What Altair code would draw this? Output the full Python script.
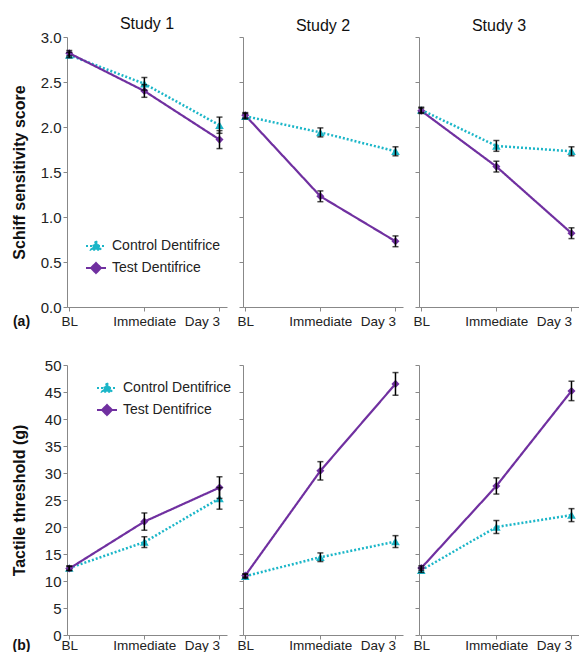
import altair as alt
import pandas as pd

# ---------------- data ----------------
studies = ["Study 1", "Study 2", "Study 3"]
time_labels = ["BL", "Immediate", "Day 3"]
series_names = ["Control Dentifrice", "Test Dentifrice"]

# (a) Schiff sensitivity score, mean and SE per study [BL, Immediate, Day 3]
schiff_control = [[2.80, 2.48, 2.02], [2.12, 1.94, 1.73], [2.19, 1.79, 1.73]]
schiff_control_se = [[0.03, 0.07, 0.09], [0.03, 0.05, 0.05], [0.03, 0.06, 0.05]]
schiff_test = [[2.82, 2.40, 1.86], [2.13, 1.23, 0.73], [2.18, 1.56, 0.82]]
schiff_test_se = [[0.03, 0.07, 0.10], [0.03, 0.06, 0.06], [0.03, 0.06, 0.06]]

# (b) Tactile threshold (g)
tactile_control = [[12.4, 17.2, 25.3], [10.9, 14.4, 17.3], [12.0, 20.0, 22.2]]
tactile_control_se = [[0.4, 1.0, 2.0], [0.4, 0.8, 1.1], [0.4, 1.2, 1.2]]
tactile_test = [[12.3, 21.0, 27.3], [11.0, 30.4, 46.5], [12.4, 27.6, 45.2]]
tactile_test_se = [[0.4, 1.6, 2.0], [0.3, 1.7, 2.1], [0.4, 1.5, 1.8]]

schiff_ticks = [0, 0.5, 1.0, 1.5, 2.0, 2.5, 3.0]
tactile_ticks = [0, 5, 10, 15, 20, 25, 30, 35, 40, 45, 50]

CONTROL = "#1BB6C8"
TEST = "#7030A0"
FONT = "Arial"


def make_df(ctrl, ctrl_se, test, test_se):
    rows = []
    for si, study in enumerate(studies):
        for ti in range(3):
            for name, m, s in ((series_names[0], ctrl, ctrl_se), (series_names[1], test, test_se)):
                v = m[si][ti]
                e = s[si][ti]
                rows.append({"study": study, "series": name, "t": ti,
                             "mean": v, "lo": v - e, "hi": v + e})
    return pd.DataFrame(rows)


df_a = make_df(schiff_control, schiff_control_se, schiff_test, schiff_test_se)
df_b = make_df(tactile_control, tactile_control_se, tactile_test, tactile_test_se)

label_expr = ("datum.value == 0 ? '%s' : datum.value == 1 ? '%s' : '%s'"
              % tuple(time_labels))
label_align = {"condition": {"test": "datum.value == 2", "value": "right"}, "value": "center"}

legend_paths = [
    "M-1,0L1,0M0,-0.5L0.5,0.38L-0.5,0.38Z",
    "M-1,0L1,0M0,-0.5L0.5,0L0,0.5L-0.5,0Z",
]


def panel(df, si, ydomain, yticks, yfmt, ytitle, letter, legend_xy, show_title, xpad):
    first = si == 0
    study = studies[si]
    base = alt.Chart(df).transform_filter(alt.datum.study == study)

    if first:
        xaxis = alt.Axis(values=[0, 1, 2], labelExpr=label_expr, labelAlign=label_align,
                         labelPadding=xpad, title=letter,
                         titleX=-46, titleY=11 + xpad, titleAlign="center",
                         titleBaseline="middle",
                         titleFontSize=14, titleFontWeight="bold", titleFont=FONT,
                         titleColor="#111")
    else:
        xaxis = alt.Axis(values=[0, 1, 2], labelExpr=label_expr, labelAlign=label_align,
                         labelPadding=xpad, title=None)
    x = alt.X("t:Q", scale=alt.Scale(domain=[-0.03, 2.1], nice=False, zero=False), axis=xaxis)

    if first:
        yaxis = alt.Axis(values=yticks, format=yfmt, title=ytitle, labelFontSize=15,
                         titleX=-40, titleY=135, titleAngle=-90, titleAlign="center",
                         titleBaseline="bottom", titleFontSize=16, titleFontWeight="bold",
                         titleFont=FONT, titleColor="#111")
    else:
        yaxis = alt.Axis(values=yticks, labels=False, title=None)
    yscale = alt.Scale(domain=ydomain, nice=False, zero=False)
    y = alt.Y("mean:Q", scale=yscale, axis=yaxis)

    layers = []
    styles = [
        (series_names[0], CONTROL, [2, 2], 2.5, "triangle-up", 75),
        (series_names[1], TEST, [1, 0], 2.2, "diamond", 65),
    ]
    for name, col, dash, sw, shp, sz in styles:
        layers.append(base.transform_filter(alt.datum.series == name)
                      .mark_line(color=col, strokeWidth=sw, strokeDash=dash)
                      .encode(x=x, y=y))
    for name, col, dash, sw, shp, sz in styles:
        layers.append(base.transform_filter(alt.datum.series == name)
                      .mark_point(filled=True, opacity=1, color=col, shape=shp, size=sz)
                      .encode(x=x, y=y))
    layers.append(base.mark_errorbar(color="black", ticks={"size": 6, "thickness": 1.5},
                                     rule={"strokeWidth": 1.5})
                  .encode(x=x, y=alt.Y("lo:Q", scale=yscale, axis=yaxis), y2="hi:Q"))

    if first:
        leg = alt.Legend(title=None, orient="none", legendX=legend_xy[0], legendY=legend_xy[1],
                         labelFontSize=14, labelFont=FONT, labelColor="#222",
                         symbolSize=400, symbolStrokeWidth=2, rowPadding=3, labelOffset=5)
        layers.append(
            base.transform_filter("false")
            .mark_point(filled=True, opacity=1)
            .encode(
                x=x, y=y,
                fill=alt.Fill("series:N", scale=alt.Scale(domain=series_names, range=[CONTROL, TEST]), legend=leg),
                stroke=alt.Stroke("series:N", scale=alt.Scale(domain=series_names, range=[CONTROL, TEST]), legend=leg),
                shape=alt.Shape("series:N", scale=alt.Scale(domain=series_names, range=legend_paths), legend=leg),
                strokeDash=alt.StrokeDash("series:N", scale=alt.Scale(domain=series_names, range=[[2, 2], [1, 0]]), legend=leg),
            )
        )

    props = dict(width=160, height=270)
    if show_title:
        props["title"] = alt.TitleParams(study, fontSize=16, fontWeight="normal", font=FONT,
                                         color="#111", offset=-1.5 if first else 3,
                                         frame="group")
    return alt.layer(*layers).properties(**props)


panels = []
for si in range(3):
    panels.append(panel(df_a, si, [0, 3], schiff_ticks, ".1f", "Schiff sensitivity score",
                        "(a)", (18, 198), True, 3))
for si in range(3):
    panels.append(panel(df_b, si, [0, 50], tactile_ticks, "d", "Tactile threshold (g)",
                        "(b)", (29, 12), False, -1))

chart = alt.concat(*panels, columns=3, spacing={"row": 58, "column": 16}, bounds="flush").resolve_scale(
    x="independent", y="independent", fill="independent", stroke="independent",
    shape="independent", strokeDash="independent"
).resolve_legend(
    fill="independent", stroke="independent", shape="independent", strokeDash="independent"
).properties(
    padding={"left": 2, "top": 7, "right": 0, "bottom": 0}
).configure_view(stroke=None).configure_axis(
    grid=False, domainColor="#888", tickColor="#888", labelColor="#222",
    labelFont=FONT, labelFontSize=13.5, tickSize=4
)

chart.save("out.html", embed_options={"renderer": "svg", "actions": False})
